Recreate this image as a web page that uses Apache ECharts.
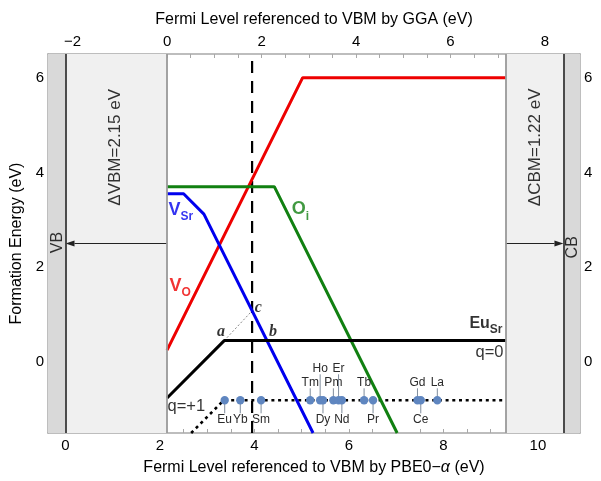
<!DOCTYPE html>
<html><head><meta charset="utf-8">
<script src="https://cdn.jsdelivr.net/npm/echarts@6/dist/echarts.min.js"></script>
<style>html,body{margin:0;padding:0;background:#fff}#c{width:601px;height:481px}</style>
</head><body><div id="c"></div>
<script>
// ---------- data ----------
const xMinPBE = -0.37, xMaxPBE = 10.89;      // bottom axis range (PBE0-alpha)
const ggaShift = 2.15;                        // GGA = PBE0 - 2.15
const yMin = -1.5, yMax = 6.5;
const bottomTickLabels = [0, 2, 4, 6, 8, 10];
const topTickLabels = [-2, 0, 2, 4, 6, 8];
const yTickLabels = [0, 2, 4, 6];
const vbmPBE = 0, vbmGGA = 2.15, cbmGGA = 9.32, cbmPBE = 10.54;
const arrowLevel = 2.5;
const fermiX = 3.95, fermiTop = 6.38;

const VO   = [[2.15, 0.25], [5.02, 6.0], [9.32, 6.0]];
const Oi   = [[2.15, 3.7], [4.42, 3.7], [7.02, -1.5]];
const VSr  = [[2.15, 3.55], [2.5, 3.55], [2.93, 3.12], [5.24, -1.5]];
const EuSr = [[2.15, -0.76], [3.36, 0.45], [9.32, 0.45]];
const EuQ1 = [[2.66, -1.5], [3.35, -0.81], [9.32, -0.81]];
const ptA = [3.36, 0.45], ptB = [4.265, 0.45], ptC = [3.95, 1.08];

const reNames  = ['Eu','Yb','Sm','Tm','Ho','Dy','Pm','Er','Nd','Tb','Pr','Gd','Ce','La'];
const reLevels = [3.37, 3.70, 4.14, 5.18, 5.39, 5.45, 5.67, 5.78, 5.85, 6.32, 6.51, 7.45, 7.52, 7.87];
const reY = -0.81;

// ---------- style ----------
const reLabelTier = {Eu:-1,Yb:-1,Sm:-1,Tm:1,Ho:2,Dy:-1,Pm:1,Er:2,Nd:-1,Tb:1,Pr:-1,Gd:1,Ce:-1,La:1};
const FONT = 'Liberation Sans';
const FRAME = '#a8a8a8';
const TXT = '#000';
function minus(v){ return v < 0 ? '\u2212' + (-v) : String(v); }
function steps(a, b, s){ const r=[]; for(let v=a; v<=b+1e-9; v+=s) r.push(+v.toFixed(3)); return r; }

function xAxisDef(pos, min, max, labels, ticks, name, gap){
  return {
    type:'value', position:pos, min:min, max:max,
    name:name, nameLocation:'middle', nameGap:gap,
    nameTextStyle:{fontSize:16, color:TXT, fontFamily:FONT, rich:{i:{fontSize:16, fontStyle:'italic', color:TXT, fontFamily:FONT}}},
    axisLine:{show:true, onZero:false, lineStyle:{color:FRAME, width:1.5}},
    axisTick:{show:true, inside:true, length:4, customValues:ticks, lineStyle:{color:FRAME, width:1}},
    axisLabel:{show:true, customValues:labels, formatter:minus, fontSize:15, color:TXT, fontFamily:FONT, margin:5},
    splitLine:{show:false}, minorTick:{show:false}
  };
}
function yAxisDef(pos, name){
  return {
    type:'value', position:pos, min:yMin, max:yMax,
    name:name, nameLocation:'middle', nameGap:9,
    nameTextStyle:{fontSize:16, color:TXT, fontFamily:FONT},
    axisLine:{show:true, onZero:false, lineStyle:{color:FRAME, width:1.5}},
    axisTick:{show:true, inside:true, length:4, customValues:steps(-1, 6, 0.5), lineStyle:{color:FRAME, width:1}},
    axisLabel:{show:true, customValues:yTickLabels, formatter:minus, fontSize:15, color:TXT, fontFamily:FONT, margin:4},
    splitLine:{show:false}
  };
}

function lineSeries(data, color, width, dash, z){
  return {type:'line', data:data, symbol:'none', silent:true, clip:true, z:z||3,
    lineStyle:{color:color, width:width, type:dash||'solid', cap:'butt'}};
}

function ann(x, y, fmt, opts){
  return {value:[x, y], label:Object.assign({show:true, formatter:fmt, distance:0, fontFamily:FONT, color:TXT}, opts)};
}
function richSub(color, big, small){
  return {
    v:{fontSize:big, fontWeight:'bold', color:color, fontFamily:FONT, verticalAlign:'bottom', padding:[0,0,4,0]},
    s:{fontSize:small, fontWeight:'bold', color:color, fontFamily:FONT, verticalAlign:'bottom'}
  };
}
const serifIt = {fontFamily:'Liberation Serif', fontStyle:'italic', fontWeight:'bold', fontSize:16, color:TXT, position:'inside'};

const chart = echarts.init(document.getElementById('c'));
chart.setOption({
  animation:false,
  backgroundColor:'#fff',
  grid:{left:48, right:21, top:54, bottom:48, containLabel:false},
  xAxis:[
    xAxisDef('bottom', xMinPBE, xMaxPBE, bottomTickLabels, steps(0, 10.5, 0.5),
             'Fermi Level referenced to VBM by PBE0\u2212{i|\u03b1} (eV)', 27),
    xAxisDef('top', +(xMinPBE-ggaShift).toFixed(2), +(xMaxPBE-ggaShift).toFixed(2), topTickLabels, steps(-2.5, 8.5, 0.5),
             'Fermi Level referenced to VBM by GGA (eV)', 26)
  ],
  yAxis:[ yAxisDef('left', 'Formation Energy (eV)'), yAxisDef('right', '') ],
  series:[
    {type:'line', data:[], silent:true, z:1,
     markArea:{silent:true, label:{show:false}, data:[
       [{xAxis:xMinPBE, itemStyle:{color:'#f0f0f0'}}, {xAxis:vbmGGA}],
       [{xAxis:xMinPBE, itemStyle:{color:'#d9d9d9'}}, {xAxis:vbmPBE}],
       [{xAxis:cbmGGA, itemStyle:{color:'#f0f0f0'}}, {xAxis:xMaxPBE}],
       [{xAxis:cbmPBE, itemStyle:{color:'#d9d9d9'}}, {xAxis:xMaxPBE}]
     ]},
     markLine:{silent:true, symbol:'none', label:{show:false}, animation:false, data:[
       {xAxis:vbmPBE, lineStyle:{color:'#3a3a3a', width:1.8, type:'solid'}},
       {xAxis:vbmGGA, lineStyle:{color:'#999', width:1.8, type:'solid'}},
       {xAxis:cbmGGA, lineStyle:{color:'#999', width:1.8, type:'solid'}},
       {xAxis:cbmPBE, lineStyle:{color:'#3a3a3a', width:1.8, type:'solid'}}
     ]}
    },
    {type:'custom', coordinateSystem:'cartesian2d', silent:true, z:2,
     data:[[vbmGGA, vbmPBE, arrowLevel], [cbmGGA, cbmPBE, arrowLevel]],
     renderItem:function(params, api){
       const p0 = api.coord([api.value(0), api.value(2)]);
       const p1 = api.coord([api.value(1), api.value(2)]);
       const dir = p1[0] > p0[0] ? 1 : -1;
       const L = 9, H = 3;
       return {type:'group', children:[
         {type:'line', shape:{x1:p0[0], y1:p0[1], x2:p1[0]-dir*L, y2:p1[1]}, style:{stroke:'#222', lineWidth:1.2}},
         {type:'polygon', shape:{points:[[p1[0], p1[1]], [p1[0]-dir*L, p1[1]-H], [p1[0]-dir*L, p1[1]+H]]}, style:{fill:'#222'}}
       ]};
     }
    },
    lineSeries([ptA, ptC], '#888', 1, [2,2], 3),
    lineSeries([[fermiX, yMin], [fermiX, fermiTop]], '#000', 2.2, [12,8], 3),
    lineSeries(EuQ1, '#000', 2.6, [3,3.7], 3),
    lineSeries(VO, '#ee0000', 3, 'solid', 4),
    lineSeries(Oi, '#118011', 3, 'solid', 4),
    lineSeries(VSr, '#0000ee', 3, 'solid', 4),
    lineSeries(EuSr, '#000', 3, 'solid', 4),
    {type:'custom', coordinateSystem:'cartesian2d', silent:true, z:6,
     data: reLevels.map((x, i) => [x, reY, i]),
     renderItem:function(params, api){
       const p = api.coord([api.value(0), api.value(1)]);
       const name = reNames[api.value(2)];
       const tier = reLabelTier[name];
       const off = tier === 2 ? -32 : (tier === 1 ? -18 : 19);
       const stem = tier === 2 ? -26 : (tier === 1 ? -12 : 13);
       return {type:'group', children:[
         {type:'line', shape:{x1:p[0], y1:p[1], x2:p[0], y2:p[1]+stem}, style:{stroke:'#7f8c9c', lineWidth:1}},
         {type:'circle', shape:{cx:p[0], cy:p[1], r:4.2}, style:{fill:'#5f86c0'}},
         {type:'text', x:p[0], y:p[1]+off, style:{text:name, fill:'#2a2a2a', fontSize:12, fontFamily:FONT, align:'center', verticalAlign:'middle'}}
       ]};
     }
    },
    {type:'scatter', symbolSize:0, silent:true, z:7, data:[
      ann(2.18, 3.17, '{v|V}{s|Sr}', {position:'right', rich:richSub('#0000ee', 18, 12)}),
      ann(2.2, 1.56, '{v|V}{s|O}', {position:'right', rich:richSub('#ee0000', 18, 12)}),
      ann(4.79, 3.18, '{v|O}{s|i}', {position:'right', rich:richSub('#118011', 18, 12)}),
      ann(9.25, 0.77, '{v|Eu}{s|Sr}', {position:'left', rich:richSub('#000', 16, 12)}),
      ann(9.27, 0.2, 'q=0', {position:'left', fontSize:16.5}),
      ann(2.16, -0.93, 'q=+1', {position:'right', fontSize:16.5}),
      ann(3.29, 0.63, 'a', serifIt),
      ann(4.39, 0.63, 'b', serifIt),
      ann(4.08, 1.15, 'c', serifIt),
      ann(1.06, 4.53, '\u0394VBM=2.15 eV', {position:'inside', rotate:90, fontSize:17}),
      ann(9.94, 4.53, '\u0394CBM=1.22 eV', {position:'inside', rotate:90, fontSize:17}),
      ann(-0.16, 2.52, 'VB', {position:'inside', rotate:90, fontSize:16}),
      ann(10.73, 2.42, 'CB', {position:'inside', rotate:90, fontSize:16})
    ]}
  ]
});
</script>
</body></html>
